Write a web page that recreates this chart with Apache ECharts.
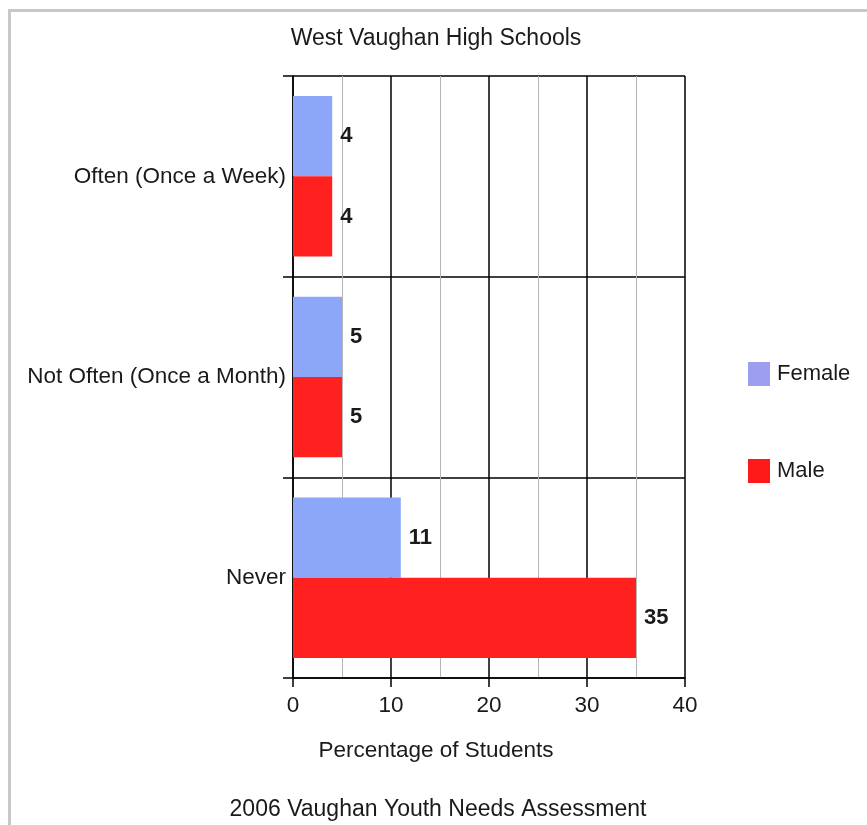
<!DOCTYPE html>
<html>
<head>
<meta charset="utf-8">
<script src="https://cdn.jsdelivr.net/npm/echarts@6/dist/echarts.min.js"></script>
<style>
  html, body { margin: 0; padding: 0; background: #fff; }
  #chart { width: 867px; height: 825px; }
</style>
</head>
<body>
<div id="chart"></div>
<script>
// Survey responses by frequency, split by gender
const categories = ['Often (Once a Week)', 'Not Often (Once a Month)', 'Never'];
const femaleValues = [4, 5, 11];
const maleValues = [4, 5, 35];
const xTicks = [0, 10, 20, 30, 40];

const FONT = '"Liberation Sans", Arial, sans-serif';
const TEXT = '#1a1a1a';

const chart = echarts.init(document.getElementById('chart'), null, { renderer: 'canvas' });

const valueLabel = {
  show: true,
  position: 'right',
  distance: 8,
  fontFamily: FONT,
  fontSize: 22,
  fontWeight: 'bold',
  color: TEXT
};

chart.setOption({
  backgroundColor: '#fff',
  animation: false,
  grid: { left: 293, right: 182, top: 76, bottom: 147, containLabel: false },
  legend: {
    orient: 'vertical',
    left: 743,
    top: 357,
    itemWidth: 22,
    itemHeight: 24,
    itemGap: 73,
    icon: 'rect',
    textStyle: { fontFamily: FONT, fontSize: 22, color: TEXT, padding: [6, 0, 0, 2] },
    data: [
      { name: 'Female', itemStyle: { color: '#9c9ff0' } },
      { name: 'Male', itemStyle: { color: '#ff1a1a' } }
    ]
  },
  xAxis: {
    type: 'value',
    min: xTicks[0],
    max: xTicks[xTicks.length - 1],
    interval: 10,
    axisLine: { show: true, lineStyle: { color: '#000', width: 1.5 } },
    axisTick: { show: true, length: 9, lineStyle: { color: '#000', width: 1.5 } },
    axisLabel: { margin: 16, fontFamily: FONT, fontSize: 22.5, color: TEXT },
    splitLine: { show: true, lineStyle: { color: '#000', width: 1.5 } },
    minorTick: { show: false, splitNumber: 2 },
    minorSplitLine: { show: true, lineStyle: { color: '#b4b4b4', width: 1 } }
  },
  yAxis: {
    type: 'category',
    inverse: true,
    data: categories,
    axisLine: { show: true, lineStyle: { color: '#000', width: 1.5 } },
    axisTick: { show: true, length: 10, lineStyle: { color: '#000', width: 1.5 } },
    axisLabel: { margin: 7, fontFamily: FONT, fontSize: 22.5, color: TEXT, padding: [3, 0, 0, 0] },
    splitLine: { show: true, showMinLine: true, showMaxLine: true, lineStyle: { color: '#000', width: 1.5 } }
  },
  series: [
    {
      name: 'Female',
      type: 'bar',
      data: femaleValues,
      barGap: '0%',
      barCategoryGap: '20%',
      itemStyle: { color: '#8ca6f8' },
      label: valueLabel
    },
    {
      name: 'Male',
      type: 'bar',
      data: maleValues,
      barGap: '0%',
      barCategoryGap: '20%',
      itemStyle: { color: '#ff2020' },
      label: valueLabel
    }
  ],
  graphic: [
    {
      type: 'rect',
      silent: true,
      shape: { x: 9.5, y: 10.5, width: 900, height: 900 },
      style: { fill: null, stroke: '#c8c8c8', lineWidth: 3 }
    },
    {
      type: 'text',
      x: 436, y: 39,
      style: { text: 'West Vaughan High Schools', font: '23px ' + FONT, fill: TEXT, textAlign: 'center', textVerticalAlign: 'middle' }
    },
    {
      type: 'text',
      x: 436, y: 751,
      style: { text: 'Percentage of Students', font: '22.5px ' + FONT, fill: TEXT, textAlign: 'center', textVerticalAlign: 'middle' }
    },
    {
      type: 'text',
      x: 438, y: 810,
      style: { text: '2006 Vaughan Youth Needs Assessment', font: '23px ' + FONT, fill: TEXT, textAlign: 'center', textVerticalAlign: 'middle' }
    }
  ]
});
</script>
</body>
</html>
